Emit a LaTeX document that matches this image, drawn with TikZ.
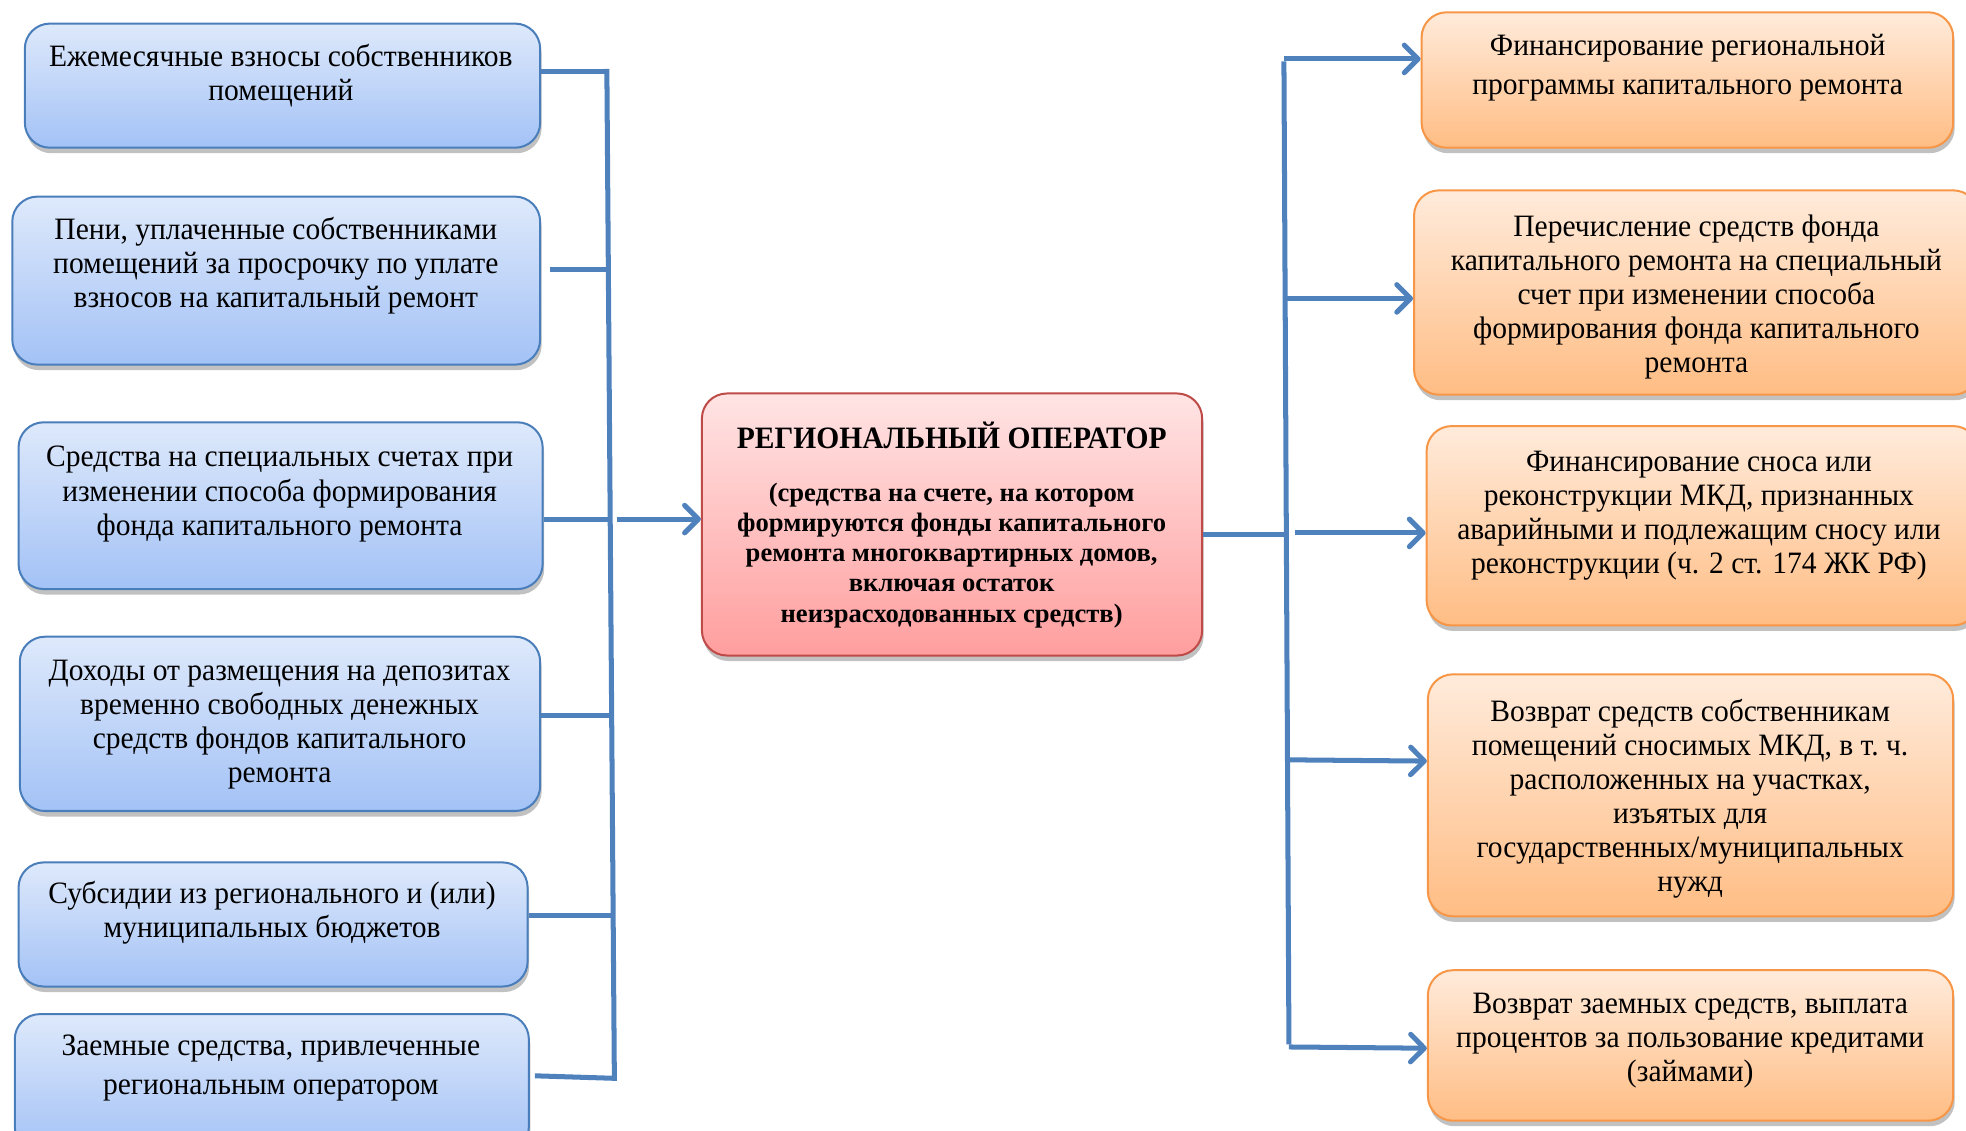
\documentclass[tikz,border=0pt]{standalone}
\usepackage{fontspec}
\setmainfont[FakeStretch=0.95]{Liberation Serif}
\newfontfamily\parafont{Liberation Serif}
\usetikzlibrary{arrows.meta,shadows}

\definecolor{lineblue}{HTML}{4F81BD}
\definecolor{bluetop}{HTML}{DEE9FB}
\definecolor{bluebot}{HTML}{A3C2F6}
\definecolor{blueborder}{HTML}{4A7EBB}
\definecolor{redtop}{HTML}{FFE4E4}
\definecolor{redbot}{HTML}{FF9E9E}
\definecolor{redborder}{HTML}{BE4B48}
\definecolor{orgtop}{HTML}{FFEBDB}
\definecolor{orgbot}{HTML}{FFBD84}
\definecolor{orgborder}{HTML}{F79646}

\tikzset{
  box/.style={rectangle, rounded corners=10pt, line width=0.8pt, anchor=north west, inner sep=0pt,
    drop shadow={shadow xshift=0.6pt, shadow yshift=-2.2pt, opacity=0.35, fill=black!70}},
  bluebox/.style={box, draw=blueborder, top color=bluetop, bottom color=bluebot},
  redbox/.style={box, draw=redborder, top color=redtop, bottom color=redbot},
  orgbox/.style={box, draw=orgborder, top color=orgtop, bottom color=orgbot},
  txt/.style={align=center, inner sep=0pt, font=\fontsize{12.4}{13.6}\selectfont},
  txtw/.style={align=center, inner sep=0pt, font=\fontsize{12.4}{15.5}\selectfont},
  conn/.style={draw=lineblue, line width=2pt},
  arr/.style={conn, -{Straight Barb[length=5.5pt,width=11pt,round]}},
}

\begin{document}
\begin{tikzpicture}[x=0.5pt,y=-0.5pt]
\useasboundingbox (0,0) rectangle (1568,902);

% left boxes
\node[bluebox, minimum width=205.5pt, minimum height=49.5pt] (l1) at (19,18) {};
\node[bluebox, minimum width=210.5pt, minimum height=67pt] (l2) at (9,156) {};
\node[bluebox, minimum width=209pt, minimum height=66.5pt] (l3) at (14,336) {};
\node[bluebox, minimum width=207.5pt, minimum height=69.5pt] (l4) at (15,507) {};
\node[bluebox, minimum width=203pt, minimum height=49.5pt] (l5) at (14,687) {};
\node[bluebox, minimum width=205pt, minimum height=55pt] (l6) at (11,808) {};

\node[txt] (l1t) at (224,60) {Ежемесячные взносы собственников\\помещений};
\node[txt] (l2t) at (220,212) {Пени, уплаченные собственниками\\помещений за просрочку по уплате\\взносов на капитальный ремонт};
\node[txt] (l3t) at (223,394) {Средства на специальных счетах при\\изменении способа формирования\\фонда капитального ремонта};
\node[txt] (l4t) at (223,578) {Доходы от размещения на депозитах\\временно свободных денежных\\средств фондов капитального\\ремонта};
\node[txt] (l5t) at (217,728) {Субсидии из регионального и (или)\\муниципальных бюджетов};
\node[txtw] (l6t) at (216,852) {Заемные средства, привлеченные\\региональным оператором};

% center box
\node[redbox, minimum width=199.5pt, minimum height=104.5pt] (c) at (559,313) {};
\node[inner sep=0pt, font=\bfseries\fontsize{12.4}{14}\selectfont] (ct) at (759,347) {РЕГИОНАЛЬНЫЙ ОПЕРАТОР};
\node[align=center, inner sep=0pt, font=\parafont\bfseries\fontsize{10.6}{12}\selectfont] (cp) at (759,443)
  {(средства на счете, на котором\\формируются фонды капитального\\ремонта многоквартирных домов,\\включая остаток\\неизрасходованных средств)};

% right boxes
\node[orgbox, minimum width=212pt, minimum height=54pt] (r1) at (1133,9) {};
\node[orgbox, minimum width=225pt, minimum height=81.5pt] (r2) at (1127,151) {};
\node[orgbox, minimum width=220pt, minimum height=79.5pt] (r3) at (1137,339) {};
\node[orgbox, minimum width=209.5pt, minimum height=96.5pt] (r4) at (1138,537) {};
\node[orgbox, minimum width=209.5pt, minimum height=60pt] (r5) at (1138,773) {};

\node[txtw] (r1t) at (1346,54) {Финансирование региональной\\программы капитального ремонта};
\node[txt] (r2t) at (1353,237) {Перечисление средств фонда\\капитального ремонта на специальный\\счет при изменении способа\\формирования фонда капитального\\ремонта};
\node[txt] (r3t) at (1355,411) {Финансирование сноса или\\реконструкции МКД, признанных\\аварийными и подлежащим сносу или\\реконструкции (ч. 2 ст. 174 ЖК РФ)};
\node[txt] (r4t) at (1348,637) {Возврат средств собственникам\\помещений сносимых МКД, в т.~ч.\\расположенных на участках,\\изъятых для\\государственных/муниципальных\\нужд};
\node[txt] (r5t) at (1348,830) {Возврат заемных средств, выплата\\процентов за пользование кредитами\\(займами)};

% left bus
\coordinate (lb1) at (484,57);
\coordinate (lb2) at (486,215);
\coordinate (lb3) at (487,414);
\coordinate (lb4) at (488,571);
\coordinate (lb5) at (489,730);
\coordinate (lb6) at (490,860);
\draw[conn] ([yshift=1pt]lb1) -- ([yshift=-1pt]lb6);
\draw[conn] (l1.north east |- lb1) -- (lb1);
\draw[conn] ([xshift=3.5pt]l2.north east |- lb2) -- (lb2);
\draw[conn] (l3.north east |- lb3) -- (lb3);
\draw[conn] (l4.north east |- lb4) -- (lb4);
\draw[conn] (l5.north east |- lb5) -- (lb5);
\draw[conn] ([xshift=2pt,yshift=1pt]l6.north east |- lb6) -- (lb6);
\draw[arr] ([xshift=2.5pt]lb3) -- (c.west |- lb3);

% right bus
\coordinate (rb0) at (1025,426);
\coordinate (rt1) at (1024,47);
\coordinate (rt2) at (1026,238);
\coordinate (rt3) at (1026,425);
\coordinate (rt4) at (1028,606);
\coordinate (rt5) at (1028,835);
\draw[conn] (c.east |- rb0) -- (rb0);
\draw[conn] ([yshift=-1pt]rt1) -- ([yshift=1pt]rt5);
\draw[arr] (rt1) -- (r1.west |- rt1);
\draw[arr] (rt2) -- (r2.west |- rt2);
\draw[arr] ([xshift=3.5pt]rt3) -- (r3.west |- rt3);
\draw[arr] (rt4) -- ([yshift=-0.5pt]r4.west |- rt4);
\draw[arr] (rt5) -- ([yshift=-0.5pt]r5.west |- rt5);
\end{tikzpicture}
\end{document}
